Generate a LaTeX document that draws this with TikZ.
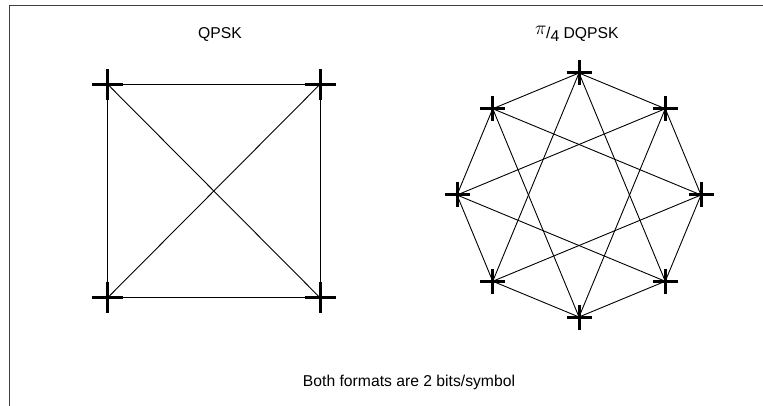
\documentclass[tikz,border=0pt]{standalone}
\usepackage{fontspec}
\setmainfont{Liberation Sans}
\usetikzlibrary{calc}
\tikzset{
  x=1pt,y=-1pt,
  frameline/.style={draw=black!75, line width=1.8pt},
  link/.style={draw=black, line width=0.9pt},
  crossmark/.style={draw=black, line width=3pt},
  lbl/.style={font=\fontsize{15.7}{18}\selectfont, inner sep=0pt, anchor=base},
}
\newcommand{\plusmark}[2]{%
  \draw[crossmark] ($(#1)+(-#2,0)$) -- ($(#1)+(#2,0)$);
  \draw[crossmark] ($(#1)+(0,-#2)$) -- ($(#1)+(0,#2)$);}
\begin{document}
\begin{tikzpicture}
\useasboundingbox (0,0) rectangle (763,406);
% frame (left and top)
\coordinate (fb) at (9.5,406);
\coordinate (fc) at (9.5,5.5);
\coordinate (fr) at (763,5.5);
\draw[frameline] (fb) -- (fc) -- (fr);

% titles
\node[lbl] (tq) at (220,39) {QPSK};
\node[lbl, anchor=base west] (td) at (535,38.5)
  {\raisebox{4pt}{\scalebox{1.35}{$\pi$}}\kern-0.5pt/\raisebox{-3.5pt}{4} DQPSK};
\node[lbl] (tb) at (409,386.5) {Both formats are 2 bits/symbol};

% QPSK constellation
\coordinate (q1) at (107.7,84.3);
\coordinate (q2) at (320,84.3);
\coordinate (q3) at (320,297.7);
\coordinate (q4) at (107.7,297.7);
\draw[link] (q1) -- (q2) -- (q3) -- (q4) -- cycle;
\draw[link] (q1) -- (q3);
\draw[link] (q2) -- (q4);
\foreach \p in {q1,q2,q3,q4} {\plusmark{\p}{15.5}}

% pi/4 DQPSK constellation
\coordinate (c) at (579,195);
\foreach \i in {0,...,7} {
  \coordinate (d\i) at ($(c)+({-\i*45}:122)$);
}
\foreach \i in {0,...,7} {
  \pgfmathtruncatemacro{\j}{mod(\i+1,8)}
  \pgfmathtruncatemacro{\k}{mod(\i+3,8)}
  \draw[link] (d\i) -- (d\j);
  \draw[link] (d\i) -- (d\k);
}
\foreach \i in {0,...,7} {\plusmark{d\i}{12.5}}
\end{tikzpicture}
\end{document}
